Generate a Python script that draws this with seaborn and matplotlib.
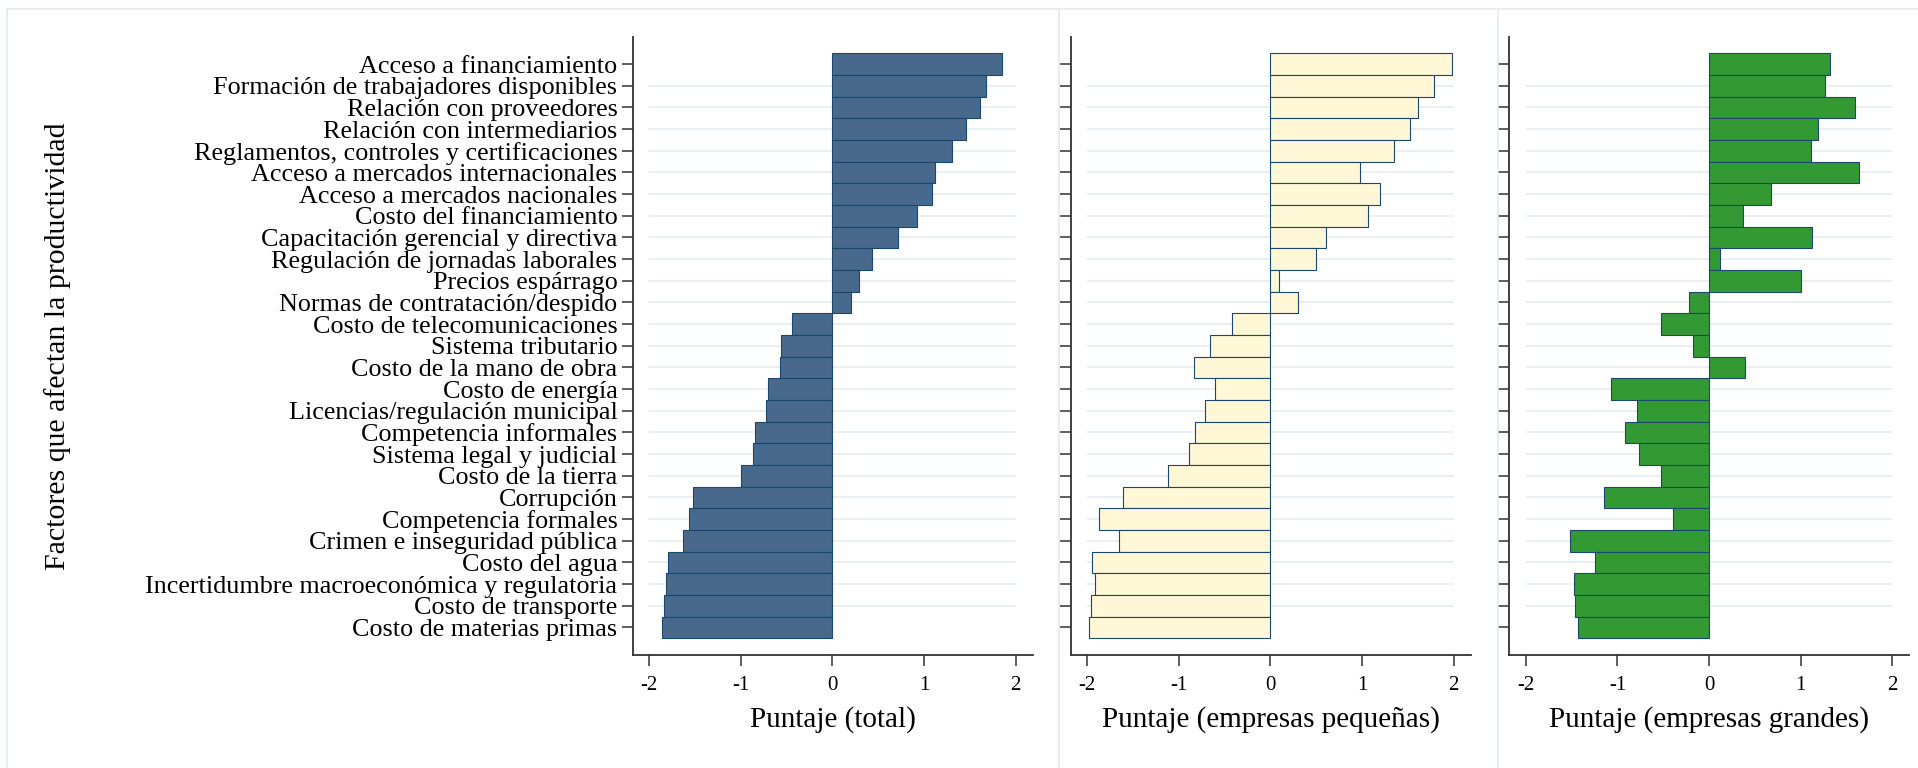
import numpy as np
import pandas as pd
import seaborn as sns
import matplotlib.pyplot as plt
from matplotlib.lines import Line2D

factores = [
    'Acceso a financiamiento',
    'Formación de trabajadores disponibles',
    'Relación con proveedores',
    'Relación con intermediarios',
    'Reglamentos, controles y certificaciones',
    'Acceso a mercados internacionales',
    'Acceso a mercados nacionales',
    'Costo del financiamiento',
    'Capacitación gerencial y directiva',
    'Regulación de jornadas laborales',
    'Precios espárrago',
    'Normas de contratación/despido',
    'Costo de telecomunicaciones',
    'Sistema tributario',
    'Costo de la mano de obra',
    'Costo de energía',
    'Licencias/regulación municipal',
    'Competencia informales',
    'Sistema legal y judicial',
    'Costo de la tierra',
    'Corrupción',
    'Competencia formales',
    'Crimen e inseguridad pública',
    'Costo del agua',
    'Incertidumbre macroeconómica y regulatoria',
    'Costo de transporte',
    'Costo de materias primas',
]

total = [1.85, 1.67, 1.61, 1.46, 1.30, 1.12, 1.09, 0.92, 0.72, 0.43, 0.29, 0.20,
         -0.44, -0.56, -0.57, -0.70, -0.73, -0.84, -0.87, -1.00, -1.52, -1.57,
         -1.63, -1.80, -1.82, -1.84, -1.86]

pequenas = [1.98, 1.78, 1.61, 1.52, 1.35, 0.98, 1.19, 1.06, 0.61, 0.50, 0.09, 0.30,
            -0.42, -0.66, -0.83, -0.61, -0.71, -0.82, -0.89, -1.12, -1.61, -1.87,
            -1.65, -1.95, -1.92, -1.96, -1.98]

grandes = [1.32, 1.27, 1.59, 1.19, 1.11, 1.64, 0.68, 0.37, 1.12, 0.12, 1.00, -0.22,
           -0.53, -0.18, 0.39, -1.07, -0.79, -0.92, -0.76, -0.53, -1.15, -0.39,
           -1.52, -1.24, -1.47, -1.46, -1.43]

series = [total, pequenas, grandes]
paneles = ['Puntaje (total)', 'Puntaje (empresas pequeñas)', 'Puntaje (empresas grandes)']
colores = ['#48698b', '#fff7d6', '#339933']
xticks = [-2, -1, 0, 1, 2]
xtick_labels = ['-2', '-1', '0', '1', '2']

sns.set_style('ticks')
plt.rcParams['font.family'] = ['Liberation Serif', 'DejaVu Serif']
plt.rcParams['text.color'] = 'black'
plt.rcParams['axes.labelcolor'] = 'black'
plt.rcParams['xtick.labelcolor'] = 'black'
plt.rcParams['ytick.labelcolor'] = 'black'

W, H = 1918, 768
fig = plt.figure(figsize=(W / 100, H / 100), dpi=100)

# marcos claros de cada subgráfico (estilo graph combine)
marco = '#e3ebee'
for x in [7, 1059, 1498]:
    fig.add_artist(Line2D([x / W, x / W], [0, 1 - 9 / H], transform=fig.transFigure,
                          color=marco, lw=1.2))
fig.add_artist(Line2D([7 / W, 1], [1 - 9 / H, 1 - 9 / H], transform=fig.transFigure,
                      color=marco, lw=1.2))

lefts = [632.7, 1070.7, 1509.3]
top, bottom = 36.7, 655
n = len(factores)

for i, vals in enumerate(series):
    ax = fig.add_axes([lefts[i] / W, 1 - bottom / H, 400 / W, (bottom - top) / H])
    df = pd.DataFrame({'factor': factores, 'puntaje': vals})
    sns.barplot(data=df, x='puntaje', y='factor', orient='h', width=1,
                color=colores[i], saturation=1, edgecolor='#1a476f',
                linewidth=0.8, errorbar=None, ax=ax, zorder=2)
    ax.hlines(np.arange(1, n - 1), -2, 2, color='#e8eff1', lw=1.3, zorder=0.5)

    ax.set_xlim(-2.18, 2.185)
    ax.set_ylim(n - 1 + 1.27, -1.26)
    ax.set_xticks(xticks)
    ax.set_xticklabels(xtick_labels, fontsize=15)
    ax.set_xlabel(paneles[i], fontsize=21, labelpad=8)
    if i == 0:
        ax.tick_params(axis='y', labelsize=18.8, pad=3)
        ax.set_ylabel('Factores que afectan la productividad', fontsize=21.5, va='center')
        ax.yaxis.set_label_coords((58 - lefts[0]) / 400, 0.5)
    else:
        ax.set_ylabel('')
        ax.tick_params(axis='y', labelleft=False)
    ax.tick_params(axis='both', length=8, width=1.1, color='#333333')
    ax.tick_params(axis='x', pad=7)
    sns.despine(ax=ax)
    for s in ['left', 'bottom']:
        ax.spines[s].set_color('#333333')
        ax.spines[s].set_linewidth(1.3)

fig.savefig('out.png', dpi=100)
